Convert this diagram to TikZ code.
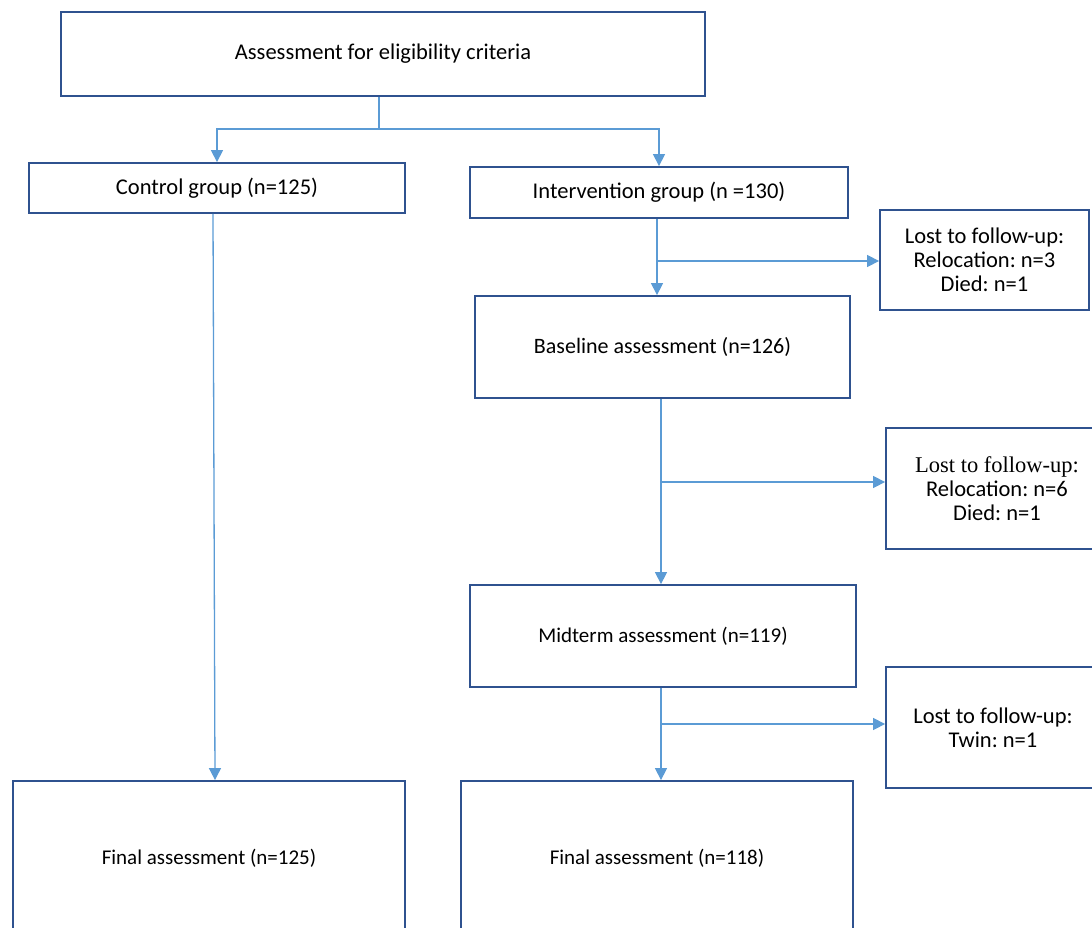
\documentclass[tikz,border=0pt]{standalone}
\usepackage{fontspec}
\setmainfont{Carlito}
\newfontfamily\serifline{Liberation Serif}
\usetikzlibrary{arrows.meta}
\definecolor{boxblue}{RGB}{47,82,143}
\definecolor{linkblue}{RGB}{91,155,213}
\frenchspacing

\begin{document}
\begin{tikzpicture}[
            x=1pt, y=-1pt,
            every node/.style={font=\fontsize{22.5}{24}\selectfont},
            stage/.style={
                rectangle,
                draw=boxblue,
                line width=1.8pt,
                fill=white,
                inner sep=0pt,
                align=center
            },
            smallstage/.style={
                stage,
                font=\fontsize{21}{24}\selectfont
            },
            arrow/.style={
                -{Triangle[width=12pt,length=12pt]},
                line width=1.3pt,
                draw=linkblue
            },
            link/.style={
                line width=1.3pt,
                draw=linkblue
            }
        ]
            \useasboundingbox (0,0) rectangle (1092,928);

            % Screening
            \node[stage, minimum width=644, minimum height=84] (assess) at (383,54) {Assessment for eligibility criteria};

            % Groups
            \node[stage, minimum width=376, minimum height=50] (control) at (217,188) {Control group (n=125)};
            \node[stage, minimum width=378, minimum height=51] (interv) at (659,192.5) {Intervention group (n =130)};

            % Intervention arm
            \node[stage, font=\fontsize{22}{24}\selectfont, minimum width=375, minimum height=102] (baseline) at (662.5,347) {Baseline assessment (n=126)};
            \node[smallstage, minimum width=386, minimum height=102] (midterm) at (663,636) {Midterm assessment (n=119)};

            % Final assessments
            \node[smallstage, minimum width=392, minimum height=154] (finalc) at (209,858) {Final assessment (n=125)};
            \node[smallstage, minimum width=392, minimum height=154] (finali) at (657,858) {Final assessment (n=118)};

            % Losses
            \node[stage, minimum width=209, minimum height=100] (lost1) at (984.5,260) {Lost to follow-up:\\Relocation: n=3\\Died: n=1};
            \node[stage, minimum width=222, minimum height=121] (lost2) at (997,488.5) {{\serifline Lost to follow-up:}\\Relocation: n=6\\Died: n=1};
            \node[stage, minimum width=214, minimum height=121] (lost3) at (993,727.5) {Lost to follow-up:\\Twin: n=1};

            % Split into groups
            \coordinate (split) at (379,129);
            \draw[link] (assess.south -| split) -- (split);
            \draw[arrow] (split) -| (control.north);
            \draw[arrow] (split) -| (interv.north);

            % Vertical connections
            \draw[arrow] ([xshift=-4]control.south) -- ([xshift=6]finalc.north);
            \draw[arrow] ([xshift=-2]interv.south) -- ([xshift=-2]interv.south |- baseline.north);
            \draw[arrow] ([xshift=-1.5]baseline.south) -- ([xshift=-1.5]baseline.south |- midterm.north);
            \draw[arrow] ([xshift=-2]midterm.south) -- ([xshift=-2]midterm.south |- finali.north);

            % Branches to losses
            \coordinate (b1) at (657,261);
            \coordinate (b2) at (661,482);
            \coordinate (b3) at (661,724);
            \draw[arrow] (b1) -- (b1 -| lost1.west);
            \draw[arrow] (b2) -- (b2 -| lost2.west);
            \draw[arrow] (b3) -- (b3 -| lost3.west);
        \end{tikzpicture}
\end{document}
